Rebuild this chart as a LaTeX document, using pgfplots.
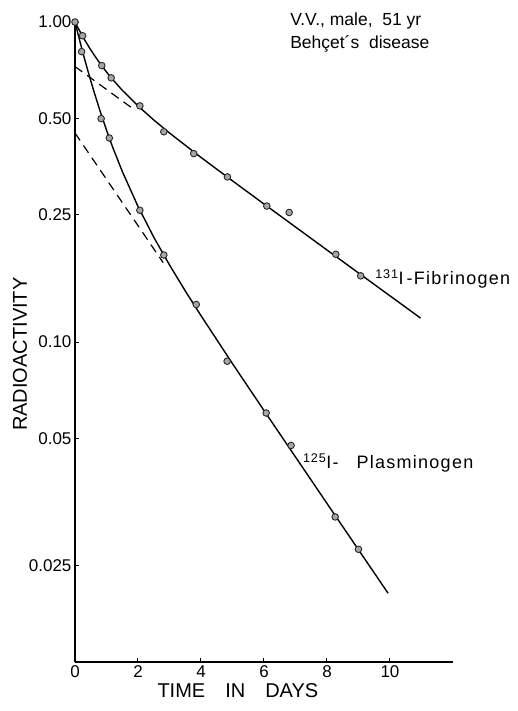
\documentclass[border=0pt]{standalone}
\usepackage{pgfplots}
\pgfplotsset{compat=1.18}
\usepackage{fontspec}
\setmainfont{Liberation Sans}
\newfontfamily\widesans[LetterSpace=7]{Liberation Sans}

\begin{document}
\begin{tikzpicture}
\begin{axis}[
    scale only axis,
    width=378pt, height=640pt,
    ymode=log,
    xmin=0, xmax=12, ymin=0.01, ymax=1,
    axis lines*=left,
    axis line style={line width=1.8pt},
    xtick={0,2,4,6,8,10},
    ytick={0.02,0.05,0.1,0.25,0.5,1},
    yticklabels={0.025,0.05,0.10,0.25,0.50,1.00},
    yminorticks=false,
    tick align=inside,
    major tick length=4pt,
    tick style={line width=1pt, black},
    /pgf/number format/assume math mode=true,
    ticklabel style={font=\fontsize{17}{19}\selectfont},
    xlabel={TIME\quad IN\quad DAYS},
    ylabel={RADIOACTIVITY},
    label style={font=\fontsize{20}{23}\selectfont},
    xlabel style={at={(axis description cs:0.431,-0.0453)}, anchor=center},
    ylabel style={at={(axis description cs:-0.1455,0.481)}, anchor=center},
    clip=false,
]
% invisible frame: keeps the reference's proportions
\draw[draw=none] (rel axis cs:-0.1984,-0.0766) rectangle (rel axis cs:1.172,1.0344);

% 131I-fibrinogen, fitted curve
\addplot[line width=1.4pt] coordinates {
    (0,1.000) (0.1,0.9571) (0.2,0.9180) (0.3,0.8821) (0.4,0.8492) (0.5,0.8189)
    (0.6,0.7909) (0.8,0.7411) (1.0,0.6981) (1.2,0.6605) (1.5,0.6121) (2.0,0.5468)
    (2.5,0.4942) (3,0.4500) (4,0.3775) (5,0.3189) (6,0.2700) (8,0.1939)
    (10,0.1394) (10.97,0.1188)};
% terminal slope, extrapolated
\addplot[line width=1.2pt, dash pattern=on 9pt off 6pt] coordinates {
    (0,0.726) (1.8,0.5394)};

% 125I-plasminogen, fitted curve
\addplot[line width=1.4pt] coordinates {
    (0,1.000) (0.1,0.9139) (0.2,0.8375) (0.3,0.7697) (0.4,0.7093) (0.5,0.6555)
    (0.6,0.6074) (0.8,0.5257) (1.0,0.4596) (1.2,0.4055) (1.5,0.3415) (2.0,0.2653)
    (2.5,0.2127) (3,0.1742) (3.5,0.1445) (4,0.1209) (5,0.0856) (6,0.0611)
    (8,0.0313) (9.94,0.0164)};
\addplot[line width=1.2pt, dash pattern=on 9pt off 6pt] coordinates {
    (0,0.45) (2.8,0.177)};

% measured points
\addplot[only marks, mark=*, mark size=3.3pt,
    mark options={fill=gray!70, draw=black!85, line width=0.9pt}] coordinates {
    (0,1.00) (0.24,0.906) (0.85,0.731) (1.15,0.669) (2.06,0.547) (2.82,0.454)
    (3.77,0.388) (4.84,0.328) (6.09,0.266) (6.80,0.254) (8.28,0.188) (9.07,0.161)};
\addplot[only marks, mark=*, mark size=3.3pt,
    mark options={fill=gray!70, draw=black!85, line width=0.9pt}] coordinates {
    (0.21,0.808) (0.83,0.499) (1.09,0.434) (2.06,0.258) (2.82,0.187) (3.85,0.131)
    (4.83,0.0871) (6.07,0.060) (6.86,0.0475) (8.26,0.0284) (9.00,0.0225)};

\node[anchor=west, font=\widesans\fontsize{18}{20}\selectfont, inner sep=0pt]
    at (rel axis cs:0.794,0.598) {\textsuperscript{131}I\,-Fibrinogen};
\node[anchor=west, font=\widesans\fontsize{18}{20}\selectfont, inner sep=0pt]
    at (rel axis cs:0.603,0.311) {\textsuperscript{125}I-\quad Plasminogen};
\node[anchor=north west, align=left, font=\fontsize{17.5}{23}\selectfont, inner sep=0pt]
    at (rel axis cs:0.569,1.014) {V.V., male,\ \ 51 yr\\Behçet´s\ \ disease};
\end{axis}
\end{tikzpicture}
\end{document}
